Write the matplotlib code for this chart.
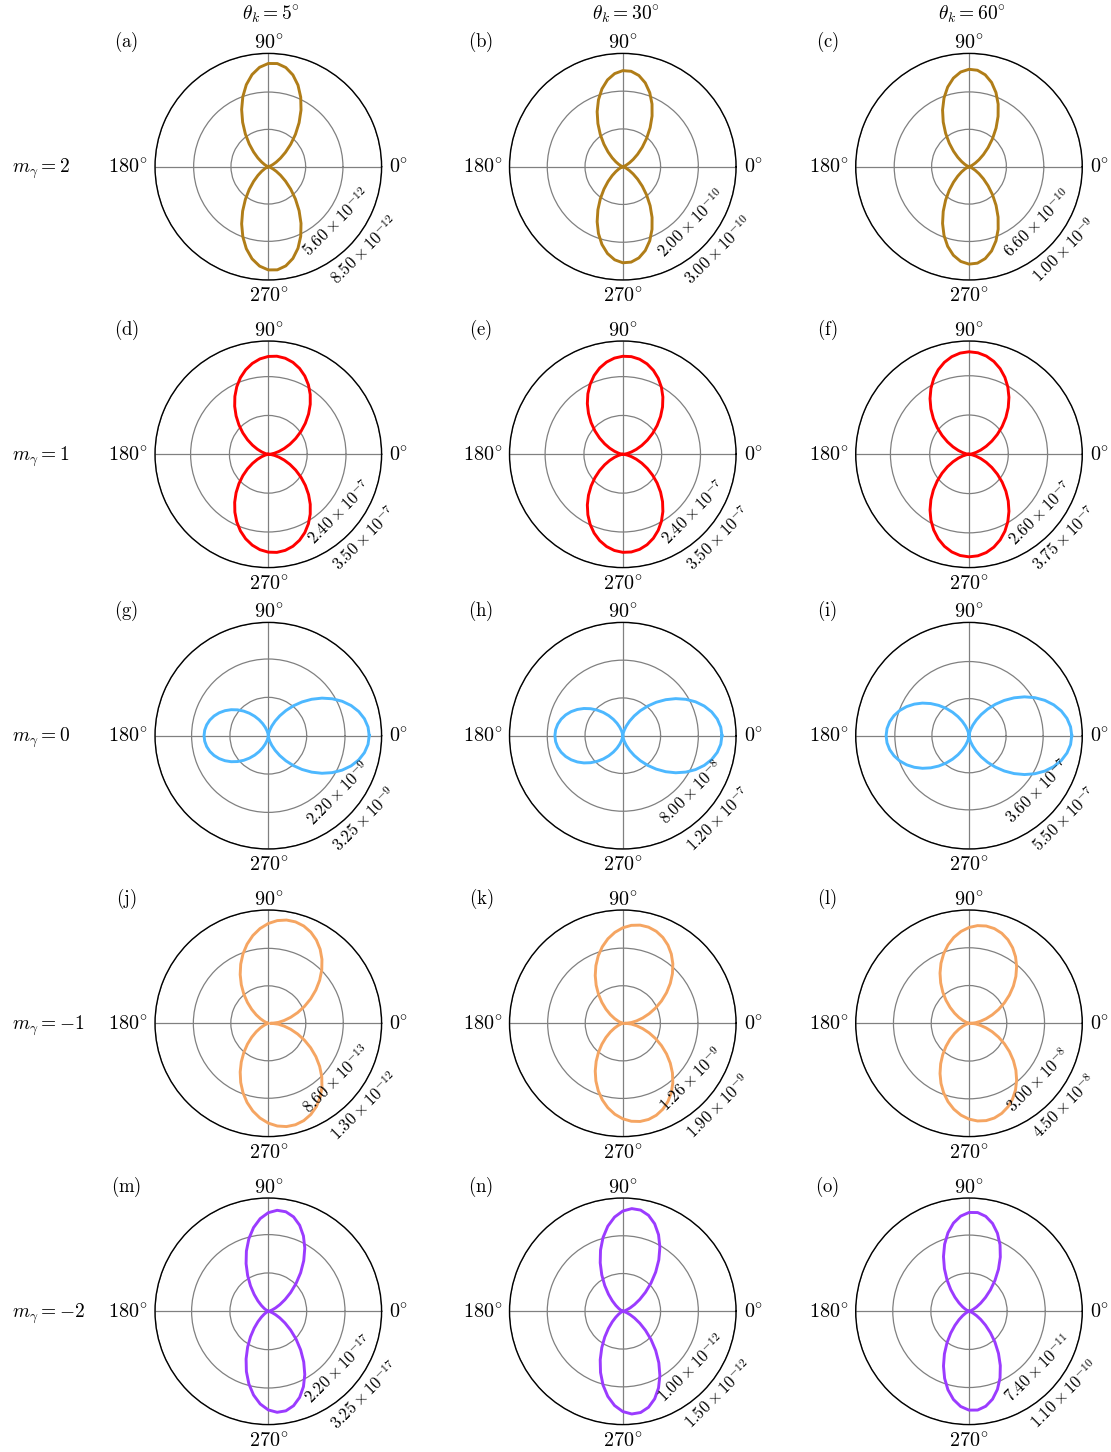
import numpy as np
import matplotlib
matplotlib.use("Agg")
import matplotlib.pyplot as plt
import matplotlib.transforms as mtransforms

plt.rcParams['mathtext.fontset'] = 'cm'
plt.rcParams['font.family'] = ['DejaVu Serif']

# ---------------- data ----------------
# polar angles (deg) of the upper half; every pattern is mirror-symmetric about 0 deg
theta_half = [0, 5, 10, 15, 20, 25, 30, 35, 40, 45, 50, 55, 60, 65, 70, 75, 80, 85, 90,
              95, 100, 105, 110, 115, 120, 125, 130, 135, 140, 145, 150, 155, 160, 165,
              170, 175, 180]

col_titles = [r'$\theta_k = 5^{\circ}$', r'$\theta_k = 30^{\circ}$', r'$\theta_k = 60^{\circ}$']
row_labels = [r'$m_\gamma = 2$', r'$m_\gamma = 1$', r'$m_\gamma = 0$',
              r'$m_\gamma = -1$', r'$m_\gamma = -2$']
panel_letters = ['a', 'b', 'c', 'd', 'e', 'f', 'g', 'h', 'i', 'j', 'k', 'l', 'm', 'n', 'o']
theta_tick_labels = [r'$0^{\circ}$', r'$90^{\circ}$', r'$180^{\circ}$', r'$270^{\circ}$']
row_colors = ['#B07D18', '#FF0000', '#4DB8FF', '#F5A562', '#9B3BFF']

# labelled radial rings: mantissa and exponent
mid_mant = [[5.60, 2.00, 6.60], [2.40, 2.40, 2.60], [2.20, 8.00, 3.60], [8.60, 1.26, 3.00], [2.20, 1.00, 7.40]]
mid_exp = [[-12, -10, -10], [-7, -7, -7], [-9, -8, -7], [-13, -9, -8], [-17, -12, -11]]
out_mant = [[8.50, 3.00, 1.00], [3.50, 3.50, 3.75], [3.25, 1.20, 5.50], [1.30, 1.90, 4.50], [3.25, 1.50, 1.10]]
out_exp = [[-12, -10, -9], [-7, -7, -7], [-9, -7, -7], [-12, -9, -8], [-17, -12, -10]]
# unlabelled inner ring (mantissa, same exponent as the middle ring)
inner_mant = [[2.80, 1.00, 3.30], [1.20, 1.20, 1.30], [1.10, 4.00, 1.80], [4.30, 0.63, 1.50], [1.10, 0.50, 3.70]]

# radiation patterns, read as a fraction of the outer ring, at theta_half
curve_a = [0.0, 0.0003, 0.0023, 0.0084, 0.0214, 0.0445, 0.0806, 0.1316, 0.1981, 0.2794,
           0.3726, 0.4738, 0.5774, 0.6770, 0.7661, 0.8385, 0.8889, 0.9138, 0.9110, 0.8808,
           0.8257, 0.7494, 0.6576, 0.5567, 0.4532, 0.3531, 0.2621, 0.1836, 0.1202, 0.0722,
           0.0389, 0.0180, 0.0067, 0.0017, 0.0002, 0.0, 0.0]
curve_b = [0.0, 0.0002, 0.0016, 0.0062, 0.0167, 0.0361, 0.0670, 0.1115, 0.1704, 0.2432,
           0.3277, 0.4206, 0.5166, 0.6102, 0.6955, 0.7662, 0.8174, 0.8453, 0.8480, 0.8248,
           0.7781, 0.7109, 0.6282, 0.5358, 0.4396, 0.3458, 0.2593, 0.1839, 0.1221, 0.0748,
           0.0413, 0.0198, 0.0078, 0.0022, 0.0003, 0.0, 0.0]
curve_c = [0.0, 0.0001, 0.0014, 0.0056, 0.0155, 0.0341, 0.0641, 0.1078, 0.1659, 0.2384,
           0.3230, 0.4164, 0.5135, 0.6091, 0.6963, 0.7699, 0.8237, 0.8545, 0.8598, 0.8391,
           0.7938, 0.7276, 0.6452, 0.5522, 0.4550, 0.3596, 0.2710, 0.1934, 0.1293, 0.0799,
           0.0446, 0.0218, 0.0087, 0.0026, 0.0004, 0.0, 0.0]
curve_d = [0.0054, 0.0236, 0.0545, 0.0968, 0.1495, 0.2107, 0.2788, 0.3516, 0.4269, 0.5025,
           0.5760, 0.6451, 0.7080, 0.7625, 0.8069, 0.8402, 0.8610, 0.8690, 0.8636, 0.8454,
           0.8144, 0.7721, 0.7196, 0.6584, 0.5901, 0.5174, 0.4421, 0.3665, 0.2930, 0.2239,
           0.1610, 0.1065, 0.0620, 0.0289, 0.0080, 0.0001, 0.0054]
curve_e = [0.0016, 0.0148, 0.0406, 0.0784, 0.1269, 0.1848, 0.2503, 0.3213, 0.3957, 0.4713,
           0.5457, 0.6167, 0.6822, 0.7401, 0.7886, 0.8264, 0.8522, 0.8654, 0.8653, 0.8522,
           0.8264, 0.7886, 0.7401, 0.6822, 0.6167, 0.5457, 0.4713, 0.3957, 0.3213, 0.2503,
           0.1848, 0.1269, 0.0784, 0.0406, 0.0148, 0.0016, 0.0016]
curve_f = [0.0001, 0.0083, 0.0300, 0.0646, 0.1110, 0.1677, 0.2331, 0.3052, 0.3816, 0.4605,
           0.5388, 0.6146, 0.6856, 0.7494, 0.8041, 0.8482, 0.8804, 0.8994, 0.9050, 0.8967,
           0.8750, 0.8403, 0.7940, 0.7373, 0.6719, 0.5998, 0.5233, 0.4446, 0.3662, 0.2903,
           0.2195, 0.1557, 0.1008, 0.0567, 0.0246, 0.0056, 0.0001]
curve_g = [0.8908, 0.8835, 0.8615, 0.8260, 0.7780, 0.7193, 0.6519, 0.5782, 0.5005, 0.4217,
           0.3442, 0.2704, 0.2025, 0.1424, 0.0918, 0.0517, 0.0229, 0.0056, 0.0, 0.0055,
           0.0211, 0.0460, 0.0788, 0.1180, 0.1621, 0.2093, 0.2582, 0.3073, 0.3550, 0.4002,
           0.4416, 0.4783, 0.5094, 0.5344, 0.5524, 0.5634, 0.5672]
curve_h = [0.8751, 0.8679, 0.8466, 0.8120, 0.7653, 0.7082, 0.6424, 0.5704, 0.4945, 0.4173,
           0.3412, 0.2686, 0.2016, 0.1421, 0.0918, 0.0518, 0.0230, 0.0057, 0.0, 0.0055,
           0.0215, 0.0470, 0.0807, 0.1213, 0.1671, 0.2165, 0.2680, 0.3199, 0.3707, 0.4189,
           0.4634, 0.5029, 0.5366, 0.5636, 0.5833, 0.5953, 0.5993]
curve_i = [0.9070, 0.8998, 0.8783, 0.8435, 0.7961, 0.7383, 0.6714, 0.5979, 0.5202, 0.4407,
           0.3618, 0.2861, 0.2158, 0.1530, 0.0994, 0.0565, 0.0252, 0.0063, 0.0, 0.0061,
           0.0243, 0.0533, 0.0923, 0.1397, 0.1938, 0.2530, 0.3153, 0.3787, 0.4414, 0.5016,
           0.5575, 0.6077, 0.6508, 0.6853, 0.7108, 0.7264, 0.7316]
curve_j = [0.0300, 0.0886, 0.1417, 0.2045, 0.2752, 0.3517, 0.4316, 0.5125, 0.5919, 0.6674,
           0.7367, 0.7978, 0.8487, 0.8879, 0.9142, 0.9269, 0.9255, 0.9100, 0.8810, 0.8394,
           0.7863, 0.7235, 0.6528, 0.5762, 0.4964, 0.4155, 0.3361, 0.2606, 0.1913, 0.1302,
           0.0793, 0.0401, 0.0138, 0.0011, 0.0025, 0.0050, 0.0100]
curve_k = [0.0250, 0.0753, 0.1236, 0.1816, 0.2474, 0.3191, 0.3944, 0.4712, 0.5470, 0.6197,
           0.6868, 0.7465, 0.7969, 0.8364, 0.8639, 0.8785, 0.8799, 0.8679, 0.8429, 0.8057,
           0.7574, 0.6994, 0.6336, 0.5619, 0.4866, 0.4098, 0.3339, 0.2613, 0.1942, 0.1345,
           0.0841, 0.0446, 0.0171, 0.0024, 0.0011, 0.0040, 0.0100]
curve_l = [0.0200, 0.0584, 0.1020, 0.1557, 0.2180, 0.2869, 0.3603, 0.4360, 0.5117, 0.5851,
           0.6540, 0.7163, 0.7700, 0.8136, 0.8457, 0.8654, 0.8720, 0.8654, 0.8457, 0.8136,
           0.7700, 0.7163, 0.6540, 0.5851, 0.5117, 0.4360, 0.3603, 0.2869, 0.2180, 0.1557,
           0.1020, 0.0584, 0.0263, 0.0066, 0.0, 0.0040, 0.0100]
curve_m = [0.0002, 0.0017, 0.0066, 0.0177, 0.0381, 0.0707, 0.1177, 0.1798, 0.2566, 0.3458,
           0.4438, 0.5451, 0.6440, 0.7339, 0.8086, 0.8626, 0.8921, 0.8948, 0.8705, 0.8211,
           0.7502, 0.6630, 0.5654, 0.4639, 0.3649, 0.2736, 0.1940, 0.1289, 0.0789, 0.0436,
           0.0209, 0.0082, 0.0023, 0.0003, 0.0, 0.0, 0.0002]
curve_n = [0.0002, 0.0017, 0.0067, 0.0180, 0.0388, 0.0719, 0.1197, 0.1828, 0.2609, 0.3516,
           0.4513, 0.5542, 0.6547, 0.7462, 0.8221, 0.8770, 0.9070, 0.9098, 0.8850, 0.8348,
           0.7627, 0.6741, 0.5748, 0.4717, 0.3710, 0.2782, 0.1973, 0.1311, 0.0803, 0.0443,
           0.0212, 0.0083, 0.0023, 0.0003, 0.0, 0.0, 0.0002]
curve_o = [0.0, 0.0003, 0.0022, 0.0080, 0.0204, 0.0426, 0.0772, 0.1260, 0.1897, 0.2675,
           0.3568, 0.4536, 0.5528, 0.6482, 0.7334, 0.8028, 0.8510, 0.8749, 0.8722, 0.8433,
           0.7905, 0.7175, 0.6296, 0.5330, 0.4339, 0.3381, 0.2509, 0.1758, 0.1151, 0.0691,
           0.0373, 0.0173, 0.0064, 0.0016, 0.0002, 0.0, 0.0]

curves = [[curve_a, curve_b, curve_c],
          [curve_d, curve_e, curve_f],
          [curve_g, curve_h, curve_i],
          [curve_j, curve_k, curve_l],
          [curve_m, curve_n, curve_o]]

# ---------------- layout ----------------
W, H = 1111, 1452
DPI = 100
fig = plt.figure(figsize=(W / DPI, H / DPI), dpi=DPI)

col_cx = [268.3, 622.8, 969.0]
row_cy = [166.7, 454.3, 735.7, 1023.3, 1311.3]
RAD = 113.3


def fx(px):
    return px / W


def fy(py):
    return 1 - py / H


def fmt(m, e):
    return r'$%.2f\times10^{%d}$' % (m, e)


th_half = np.deg2rad(np.array(theta_half, dtype=float))
th_full = np.concatenate([th_half, 2 * np.pi - th_half[-2::-1]])

lab_ang = np.deg2rad(-45.0)
TICK_FS = 14.5

for i in range(5):
    for j in range(3):
        cx, cy = col_cx[j], row_cy[i]
        ax = fig.add_axes([fx(cx - RAD), fy(cy + RAD), 2 * RAD / W, 2 * RAD / H],
                          projection='polar')
        rmid = mid_mant[i][j] * 10.0 ** mid_exp[i][j]
        rin = inner_mant[i][j] * 10.0 ** mid_exp[i][j]
        rout = out_mant[i][j] * 10.0 ** out_exp[i][j]

        half = np.array(curves[i][j]) * rout
        r_full = np.concatenate([half, half[-2::-1]])
        ax.plot(th_full, r_full, color=row_colors[i], lw=2.1, zorder=3,
                solid_joinstyle='round')

        ax.set_ylim(0, rout)
        ax.set_yticks([rin, rmid, rout])
        ax.set_yticklabels([])
        ax.set_thetagrids([0, 90, 180, 270], ['', '', '', ''])
        ax.grid(True, color='#808080', lw=0.9)
        ax.spines['polar'].set_color('black')
        ax.spines['polar'].set_linewidth(1.0)

        # angle labels
        fig.text(fx(cx + RAD + 7.5), fy(cy + 6.3), theta_tick_labels[0],
                 ha='left', va='baseline', fontsize=TICK_FS)
        fig.text(fx(cx), fy(cy - RAD - 4.5), theta_tick_labels[1],
                 ha='center', va='baseline', fontsize=TICK_FS)
        fig.text(fx(cx - RAD - 7.5), fy(cy + 6.3), theta_tick_labels[2],
                 ha='right', va='baseline', fontsize=TICK_FS)
        fig.text(fx(cx), fy(cy + RAD + 22.0), theta_tick_labels[3],
                 ha='center', va='baseline', fontsize=TICK_FS)

        # radial ring labels
        for val, txt in [(rmid, fmt(mid_mant[i][j], mid_exp[i][j])),
                         (rout, fmt(out_mant[i][j], out_exp[i][j]))]:
            tr = mtransforms.offset_copy(ax.transData, fig=fig, x=16.0, y=-3.6,
                                         units='dots')
            ax.text(lab_ang, val, txt, transform=tr, rotation=45,
                    rotation_mode='anchor', ha='center', va='center',
                    fontsize=12, clip_on=False)

        # panel letter
        fig.text(fx(cx - 142), fy(cy - 119.4),
                 r'$\mathrm{(%s)}$' % panel_letters[3 * i + j],
                 ha='center', va='baseline', fontsize=13.5)

for j in range(3):
    fig.text(fx(col_cx[j] + 3), fy(19.5), col_titles[j],
             ha='center', va='baseline', fontsize=14)
for i in range(5):
    fig.text(fx(11.7), fy(row_cy[i] + 6.0), row_labels[i],
             ha='left', va='baseline', fontsize=14)

fig.savefig('out.png', dpi=DPI)
